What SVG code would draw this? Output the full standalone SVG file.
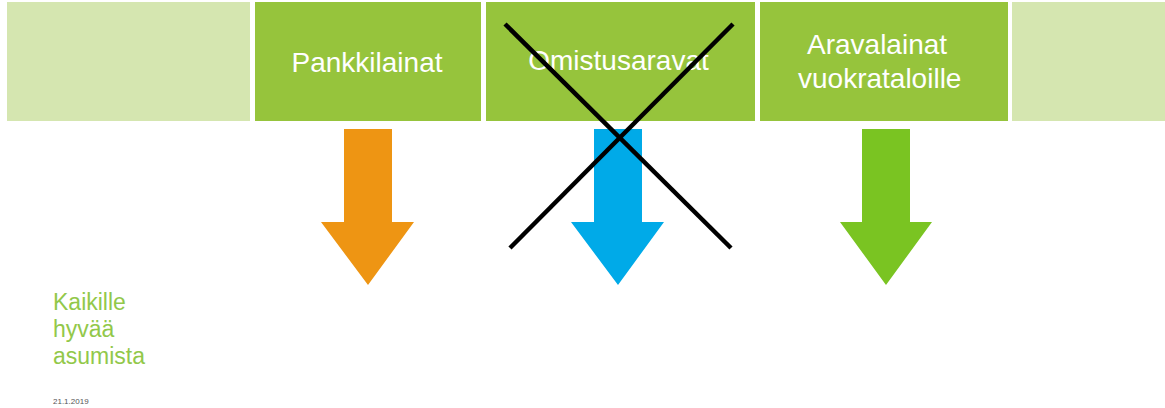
<svg xmlns="http://www.w3.org/2000/svg" width="1165" height="408" viewBox="0 0 1165 408">
<style>
.light{fill:#d5e6b0}
.dark{fill:#96c43c}
.lbl{font-family:"Liberation Sans",Arial,sans-serif;font-size:28px;fill:#ffffff}
.side{font-family:"Liberation Sans",Arial,sans-serif;font-size:23px;fill:#92c84a}
.date{font-family:"Liberation Sans",Arial,sans-serif;font-size:8px;fill:#555555}
.cross{stroke:#000000;stroke-width:4.5;fill:none}
</style>
<rect width="1165" height="408" fill="#ffffff"/>
<g id="box-left"><rect class="light" x="7" y="2" width="243" height="119"/></g>
<g id="node-pankkilainat">
<rect class="dark" x="255" y="2" width="226" height="119"/>
<text class="lbl" x="367" y="72" text-anchor="middle">Pankkilainat</text>
</g>
<g id="node-omistusaravat">
<rect class="dark" x="486" y="2" width="269" height="119"/>
<text class="lbl" x="618.5" y="70" text-anchor="middle">Omistusaravat</text>
</g>
<g id="node-aravalainat">
<rect class="dark" x="760" y="2" width="248" height="119"/>
<text class="lbl" x="807" y="54">Aravalainat</text>
<text class="lbl" x="798" y="88">vuokrataloille</text>
</g>
<g id="box-right"><rect class="light" x="1012" y="2" width="153" height="119"/></g>
<g id="connectors">
<polygon fill="#ee9513" points="344,129 392,129 392,222 414,222 368,285 321,222 344,222"/>
<polygon fill="#00aae8" points="594,129 642,129 642,222 664,222 618,285 571,222 594,222"/>
<polygon fill="#7ac422" points="862,129 910,129 910,222 932,222 886,285 840,222 862,222"/>
</g>
<g id="cross">
<line class="cross" x1="505" y1="24" x2="731" y2="248"/>
<line class="cross" x1="733" y1="24" x2="510" y2="248"/>
</g>
<g id="footer">
<text class="side" x="53" y="310">Kaikille</text>
<text class="side" x="53" y="337">hyvää</text>
<text class="side" x="53" y="364">asumista</text>
<text class="date" x="53" y="404">21.1.2019</text>
</g>
</svg>
